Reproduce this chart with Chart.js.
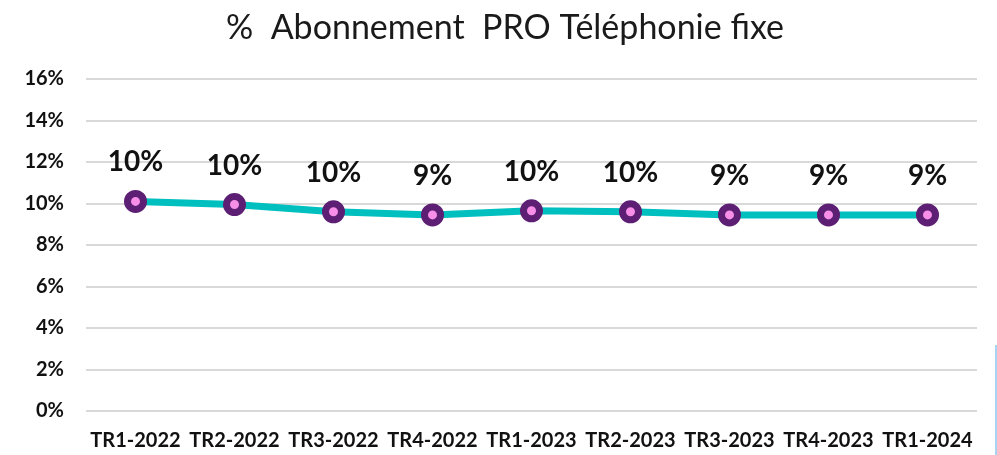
<!DOCTYPE html>
<html>
<head>
<meta charset="utf-8">
<script src="https://cdn.jsdelivr.net/npm/chart.js@4"></script>
<style>
  html, body { margin: 0; padding: 0; background: #ffffff; }
  #wrap { position: relative; width: 997px; height: 455px; }
  #edge { position: absolute; left: 995px; top: 345px; width: 2px; height: 110px; background: #a8d4f4; }
</style>
</head>
<body>
<div id="wrap">
  <canvas id="lineChart" width="997" height="455"></canvas>
  <div id="edge"></div>
</div>
<script>
// données du graphique
const quarters = ['TR1-2022', 'TR2-2022', 'TR3-2022', 'TR4-2022', 'TR1-2023', 'TR2-2023', 'TR3-2023', 'TR4-2023', 'TR1-2024'];
const proShare = [10.1, 9.95, 9.6, 9.45, 9.65, 9.6, 9.45, 9.45, 9.45];
const shareLabels = ['10%', '10%', '10%', '9%', '10%', '10%', '9%', '9%', '9%'];
const yTicks = [0, 2, 4, 6, 8, 10, 12, 14, 16];
const chartTitle = '%  Abonnement  PRO Téléphonie fixe';

const FONT = "Lato, 'Open Sans', sans-serif";
const TEAL = '#00bfbf';
const PURPLE = '#5c1f73';
const PINK = '#f78ee8';
const GRID = '#d9d9d9';

// titre + étiquettes au-dessus des points
const pointLabels = {
    id: 'pointLabels',
    afterDatasetsDraw(chart) {
        const ctx = chart.ctx;
        const meta = chart.getDatasetMeta(0);
        ctx.save();
        ctx.textAlign = 'center';
        ctx.textBaseline = 'middle';
        ctx.font = "34px " + FONT;
        ctx.fillStyle = '#1a1a1a';
        ctx.fillText(chartTitle, 505, 28);
        ctx.font = "bold 28px " + FONT;
        ctx.fillStyle = '#111111';
        meta.data.forEach((pt, i) => {
            ctx.fillText(shareLabels[i], pt.x, pt.y - 39);
        });
        ctx.restore();
    }
};

new Chart(document.getElementById('lineChart'), {
    type: 'line',
    data: {
        labels: quarters,
        datasets: [{
            label: chartTitle,
            data: proShare,
            borderColor: TEAL,
            borderWidth: 7,
            tension: 0,
            pointRadius: 8,
            pointHoverRadius: 8,
            pointBorderWidth: 7,
            pointBackgroundColor: PINK,
            pointBorderColor: PURPLE
        }]
    },
    options: {
        responsive: false,
        animation: false,
        layout: { padding: { top: 79, right: 20, bottom: 2, left: 0 } },
        plugins: {
            legend: { display: false },
            tooltip: { enabled: false },
            title: { display: false }
        },
        scales: {
            x: {
                offset: true,
                afterFit(axis) { axis.height = 42; },
                grid: { display: false, drawTicks: false },
                border: { display: false },
                ticks: {
                    color: '#111111',
                    padding: 18,
                    maxRotation: 0,
                    autoSkip: false,
                    font: { family: FONT, size: 20, weight: 'bold' }
                }
            },
            y: {
                min: 0,
                max: 16,
                afterBuildTicks(axis) { axis.ticks = yTicks.map(v => ({ value: v })); },
                afterFit(axis) { axis.width = 86; },
                grid: { color: GRID, lineWidth: 2, drawTicks: false },
                border: { display: false },
                ticks: {
                    color: '#111111',
                    padding: 22,
                    font: { family: FONT, size: 20, weight: 'bold' },
                    callback: v => v + '%'
                }
            }
        }
    },
    plugins: [pointLabels]
});
</script>
</body>
</html>
